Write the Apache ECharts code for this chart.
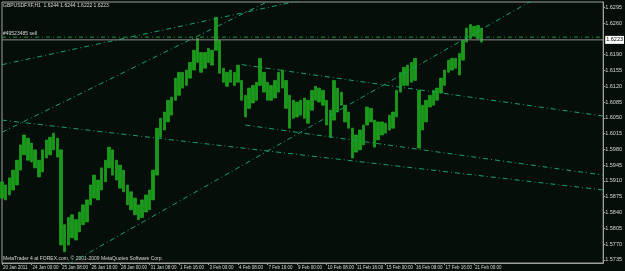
<!DOCTYPE html>
<html><head><meta charset="utf-8">
<script src="https://cdn.jsdelivr.net/npm/echarts@6/dist/echarts.min.js"></script>
<style>html,body{margin:0;padding:0;background:#060e09;overflow:hidden}#c{width:625px;height:271px}</style>
</head><body><div id="c"></div>
<script>
// ---- data ----
const symbolTitle = 'GBPUSDFXF,H1  1.6244 1.6244 1.6222 1.6223';
const orderLabel = '#49523485 sell';
const copyright = 'MetaTrader 4 at FOREX.com, \u00a9 2001-2009 MetaQuotes Software Corp.';
const timeLabels = ['20 Jan 2011','24 Jan 00:00','25 Jan 08:00','26 Jan 16:00','28 Jan 00:00','31 Jan 08:00',
  '1 Feb 16:00','3 Feb 00:00','4 Feb 08:00','7 Feb 16:00','9 Feb 00:00','10 Feb 08:00','11 Feb 16:00',
  '15 Feb 00:00','16 Feb 08:00','17 Feb 16:00','21 Feb 00:00'];
const samplesPerLabel = 8;
const totalSlots = 164;
const priceTicks = [1.6295,1.6260,1.6190,1.6155,1.6120,1.6085,1.6050,1.6015,1.5980,1.5945,1.5910,1.5875,1.5840,1.5805,1.5770,1.5735];
const priceMin = 1.5728, priceMax = 1.6307;
const highs = [1.5908,1.5901,1.5917,1.5934,1.5956,1.5990,1.6012,1.6005,1.5994,1.5979,
  1.5956,1.5979,1.6001,1.6007,1.6016,1.6005,1.5979,1.5813,1.5829,1.5835,
  1.5824,1.5841,1.5857,1.5868,1.5901,1.5923,1.5912,1.5939,1.5956,1.5985,
  1.5979,1.5956,1.5945,1.5934,1.5901,1.5886,1.5872,1.5857,1.5868,1.5879,
  1.5890,1.5934,1.6027,1.6049,1.6063,1.6089,1.6096,1.6138,1.6151,1.6151,
  1.6156,1.6173,1.6200,1.6226,1.6195,1.6195,1.6204,1.6200,1.6273,1.6222,
  1.6160,1.6151,1.6156,1.6151,1.6167,1.6133,1.6100,1.6116,1.6122,1.6129,
  1.6182,1.6151,1.6129,1.6122,1.6133,1.6151,1.6156,1.6133,1.6100,1.6089,
  1.6085,1.6089,1.6094,1.6089,1.6111,1.6120,1.6116,1.6111,1.6089,1.6067,
  1.6133,1.6116,1.6107,1.6078,1.6063,1.6027,1.6012,1.6023,1.6034,1.6074,
  1.6071,1.6045,1.6041,1.6041,1.6038,1.6056,1.6063,1.6111,1.6151,1.6162,
  1.6167,1.6173,1.6182,1.6111,1.6078,1.6089,1.6100,1.6111,1.6116,1.6138,
  1.6156,1.6178,1.6182,1.6182,1.6193,1.6222,1.6249,1.6257,1.6253,1.6255,1.6249];
const lows = [1.5872,1.5868,1.5879,1.5890,1.5901,1.5934,1.5968,1.5956,1.5952,1.5939,
  1.5919,1.5930,1.5961,1.5968,1.5979,1.5963,1.5768,1.5753,1.5768,1.5784,
  1.5779,1.5797,1.5813,1.5819,1.5857,1.5872,1.5868,1.5890,1.5908,1.5939,
  1.5923,1.5912,1.5894,1.5886,1.5857,1.5846,1.5835,1.5824,1.5829,1.5841,
  1.5846,1.5868,1.5923,1.6007,1.6023,1.6041,1.6056,1.6089,1.6100,1.6116,
  1.6122,1.6138,1.6156,1.6173,1.6151,1.6160,1.6173,1.6167,1.6200,1.6149,
  1.6129,1.6120,1.6129,1.6122,1.6129,1.6089,1.6052,1.6071,1.6083,1.6089,
  1.6122,1.6107,1.6089,1.6089,1.6094,1.6107,1.6116,1.6071,1.6027,1.6049,
  1.6052,1.6056,1.6049,1.6038,1.6067,1.6089,1.6085,1.6078,1.6034,1.6007,
  1.6045,1.6063,1.6078,1.6041,1.6027,1.5961,1.5974,1.5979,1.5990,1.6034,
  1.6041,1.5985,1.6001,1.6012,1.6016,1.6023,1.6027,1.6052,1.6107,1.6122,
  1.6122,1.6129,1.6133,1.5983,1.6023,1.6041,1.6074,1.6078,1.6089,1.6105,
  1.6122,1.6151,1.6156,1.6160,1.6145,1.6178,1.6218,1.6226,1.6231,1.6226,1.6218];
const lastPrice = 1.6223;
const sellPrice = 1.6229;
// trendlines: [slot index, price] endpoints
const trendA = [[0,1.6168],[100,1.6344]];
const trendB = [[0,1.6018],[80,1.6340]];
const trendC = [[0,1.6045],[163,1.5890]];
const trendD = [[18,1.5725],[163,1.6400]];
const trendE = [[65,1.6168],[163,1.6054]];
const trendF = [[66,1.6034],[163,1.5923]];

// ---- chart ----
const slots = Array.from({length: totalSlots}, (_, i) => String(i));
const lastSlot = totalSlots - 1;
const isLabelSlot = i => i % samplesPerLabel === 0 && (i / samplesPerLabel) < timeLabels.length;
const candles = highs.map((h, i) => [lows[i], h, lows[i], h]);
const grey = '#a0a0a0';
const txt = '#d8d8d8';
const green = '#1a9a1a';
const trendColor = '#14a06c';
const font = 'Liberation Sans';
const trendSeries = [trendA, trendB, trendC, trendD, trendE, trendF].map(d => ({
  type: 'line', data: d, showSymbol: false, silent: true, clip: true,
  lineStyle: {color: trendColor, width: 1, type: [5, 3, 1, 3]}
}));
const chart = echarts.init(document.getElementById('c'), null, {renderer: 'canvas'});
chart.setOption({
  animation: false,
  backgroundColor: '#060e09',
  grid: {left: 2, right: 18, top: 2, bottom: 8, show: true, borderColor: grey, borderWidth: 1},
  xAxis: {
    type: 'category', data: slots, boundaryGap: false,
    axisLine: {lineStyle: {color: grey}},
    axisTick: {show: true, length: 2, lineStyle: {color: grey}, interval: (i) => isLabelSlot(i)},
    axisLabel: {interval: (i) => isLabelSlot(i), formatter: (v, i) => timeLabels[i / samplesPerLabel] || '',
      color: txt, fontSize: 4.5, fontFamily: font, align: 'left', margin: 2, padding: [0,0,0,1]},
    splitLine: {show: false}
  },
  yAxis: {
    type: 'value', position: 'right', min: priceMin, max: priceMax, scale: true,
    axisLine: {show: true, lineStyle: {color: grey}},
    axisTick: {show: true, length: 2, lineStyle: {color: grey}, customValues: priceTicks},
    axisLabel: {customValues: priceTicks, formatter: v => v.toFixed(4), color: txt, fontSize: 5.5, fontFamily: font, margin: 2},
    splitLine: {show: false}
  },
  graphic: [
    {type: 'text', left: 3, top: 3, style: {text: symbolTitle, fill: txt, font: '5px ' + font}},
    {type: 'text', left: 3, top: 31, style: {text: orderLabel, fill: txt, font: '5px ' + font}},
    {type: 'text', left: 3, top: 256, style: {text: copyright, fill: txt, font: '5px ' + font}}
  ],
  series: [
    ...trendSeries,
    {type: 'line', data: [[0, sellPrice], [lastSlot, sellPrice]], showSymbol: false, silent: true,
      lineStyle: {color: '#1f8f3f', width: 1, type: [4, 3, 1, 3]}},
    {type: 'line', data: [[0, lastPrice], [lastSlot, lastPrice]], showSymbol: false, silent: true,
      lineStyle: {color: '#8c8c8c', width: 1, type: 'solid'},
      endLabel: {show: true, formatter: () => lastPrice.toFixed(4), color: '#000', backgroundColor: '#ffffff',
        fontSize: 5.5, fontFamily: font, padding: [1, 1], distance: 2}},
    {type: 'candlestick', data: candles, barWidth: 3,
      itemStyle: {color: green, color0: green, borderColor: '#24b424', borderColor0: '#24b424', borderWidth: 0.6}}
  ]
});
</script></body></html>
